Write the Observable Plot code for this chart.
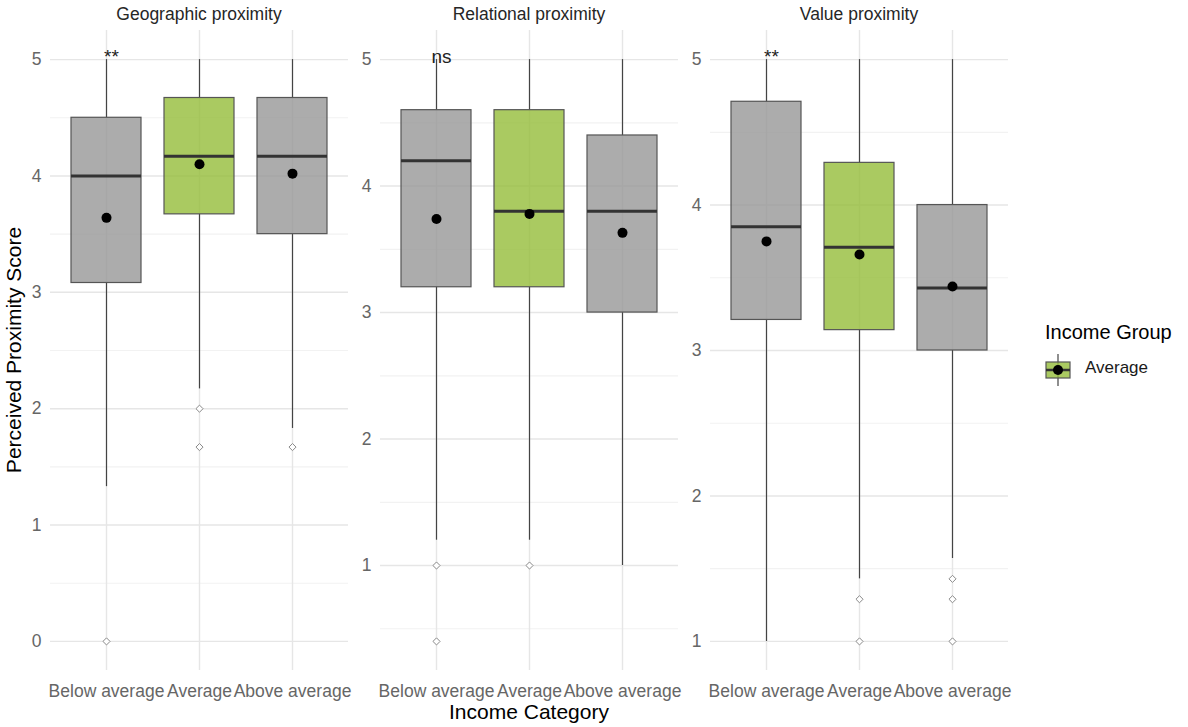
<!DOCTYPE html>
<html>
<head>
<meta charset="utf-8">
<script src="https://cdn.jsdelivr.net/npm/d3@7"></script>
<script src="https://cdn.jsdelivr.net/npm/@observablehq/plot@0.6"></script>
<style>
  body { margin: 0; background: #fff; font-family: "Liberation Sans", Arial, sans-serif; }
  #wrap { position: relative; width: 1188px; height: 727px; overflow: hidden; background: #fff; }
  .panel { position: absolute; top: 22px; }
  .strip { position: absolute; top: 4px; width: 298px; text-align: center; font-size: 17.5px; color: #262626; }
  .ytitle { position: absolute; left: 14px; top: 350px; transform: translate(-50%, -50%) rotate(-90deg); white-space: nowrap; font-size: 21px; color: #000; }
  .xtitle { position: absolute; left: 529px; top: 712px; transform: translate(-50%, -50%); white-space: nowrap; font-size: 21px; color: #000; }
  .ltitle { position: absolute; left: 1045px; top: 321px; font-size: 20px; color: #000; white-space: nowrap; }
  .llabel { position: absolute; left: 1085px; top: 358px; font-size: 17px; color: #1a1a1a; white-space: nowrap; }
  .lkey { position: absolute; left: 1043px; top: 352px; }
</style>
</head>
<body>
<div id="wrap"></div>
<script>
// ---- data ----
const panels = ["Geographic proximity", "Relational proximity", "Value proximity"];
const categories = ["Below average", "Average", "Above average"];
const highlight = "Average";
const legendTitle = "Income Group";
const xTitle = "Income Category";
const yTitle = "Perceived Proximity Score";

const majorTicks = [[0, 1, 2, 3, 4, 5], [1, 2, 3, 4, 5], [1, 2, 3, 4, 5]];
const minorTicks = [[0.5, 1.5, 2.5, 3.5, 4.5], [0.5, 1.5, 2.5, 3.5, 4.5], [1.5, 2.5, 3.5, 4.5]];

const whiskerLow  = [[1.33, 2.17, 1.83], [1.2, 1.2, 1.0], [1.0, 1.43, 1.57]];
const q1          = [[3.08, 3.67, 3.5],  [3.2, 3.2, 3.0], [3.21, 3.14, 3.0]];
const median      = [[4.0, 4.17, 4.17],  [4.2, 3.8, 3.8], [3.85, 3.71, 3.43]];
const q3          = [[4.5, 4.67, 4.67],  [4.6, 4.6, 4.4], [4.71, 4.29, 4.0]];
const whiskerHigh = [[5, 5, 5], [5, 5, 5], [5, 5, 5]];
const means       = [[3.64, 4.1, 4.02],  [3.74, 3.78, 3.63], [3.75, 3.66, 3.44]];
const outliers    = [[[0], [2, 1.67], [1.67]], [[1, 0.4], [1], []], [[], [1.29, 1], [1.43, 1.29, 1]]];
const signif      = ["**", "ns", "**"];

// ---- layout ----
const FONT = '"Liberation Sans", Arial, sans-serif';
const panelLeft = [50, 380, 710];
const panelW = 298;
const mL = 30, mT = 8, mB = 40, innerH = 640;
const wrap = document.getElementById("wrap");

panels.forEach((name, p) => {
  const rows = categories.map((c, i) => ({
    cat: c,
    lo: whiskerLow[p][i], q1: q1[p][i], med: median[p][i], q3: q3[p][i], hi: whiskerHigh[p][i],
    mean: means[p][i],
    grp: c === highlight ? "Average" : "Other"
  }));
  const outs = categories.flatMap((c, i) => outliers[p][i].map(v => ({cat: c, v})));
  const allVals = [...whiskerLow[p], ...whiskerHigh[p], ...outs.map(d => d.v)];
  const lo = d3.min(allVals), hi = d3.max(allVals), pad = (hi - lo) * 0.05;
  const top = d3.max(whiskerHigh[p]);

  const chart = Plot.plot({
    width: mL + panelW, height: mT + innerH + mB,
    marginLeft: mL, marginRight: 0, marginTop: mT, marginBottom: mB,
    style: {fontFamily: FONT, fontSize: "17.5px", color: "#666", background: "transparent", overflow: "visible"},
    x: {type: "band", domain: categories, paddingInner: 0.25, paddingOuter: 0.225, label: null, tickSize: 0, tickPadding: 14},
    y: {domain: [lo - pad, hi + pad], ticks: majorTicks[p], tickSize: 0, tickPadding: 9, label: null, tickFormat: d => String(d)},
    color: {domain: ["Other", "Average"], range: ["#979797", "#95bd3a"]},
    marks: [
      Plot.ruleY(minorTicks[p], {stroke: "#f2f2f2", strokeWidth: 1.2}),
      Plot.ruleY(majorTicks[p], {stroke: "#e6e6e6", strokeWidth: 1.4}),
      Plot.ruleX(categories, {stroke: "#e6e6e6", strokeWidth: 1.4}),
      Plot.ruleX(rows, {x: "cat", y1: "q3", y2: "hi", stroke: "#444", strokeWidth: 1.2}),
      Plot.ruleX(rows, {x: "cat", y1: "lo", y2: "q1", stroke: "#444", strokeWidth: 1.2}),
      Plot.barY(rows, {x: "cat", y1: "q1", y2: "q3", fill: "grp", fillOpacity: 0.8, stroke: "#555", strokeWidth: 1.2}),
      Plot.tickY(rows, {x: "cat", y: "med", stroke: "#333", strokeWidth: 3}),
      Plot.dot(outs, {x: "cat", y: "v", symbol: "diamond2", r: 3.2, stroke: "#8a8a8a", fill: "white", strokeWidth: 1}),
      Plot.dot(rows, {x: "cat", y: "mean", r: 5, fill: "black"}),
      Plot.text([signif[p]], {x: () => categories[0], y: () => top, text: d => d, dx: 5, dy: -3, fontSize: 19, fill: "#222"})
    ]
  });
  chart.classList.add("panel");
  chart.style.left = (panelLeft[p] - mL) + "px";
  wrap.appendChild(chart);

  const strip = document.createElement("div");
  strip.className = "strip";
  strip.style.left = panelLeft[p] + "px";
  strip.textContent = name;
  wrap.appendChild(strip);
});

const yt = document.createElement("div"); yt.className = "ytitle"; yt.textContent = yTitle; wrap.appendChild(yt);
const xt = document.createElement("div"); xt.className = "xtitle"; xt.textContent = xTitle; wrap.appendChild(xt);
const lt = document.createElement("div"); lt.className = "ltitle"; lt.textContent = legendTitle; wrap.appendChild(lt);
const ll = document.createElement("div"); ll.className = "llabel"; ll.textContent = highlight; wrap.appendChild(ll);

// legend key (boxplot glyph)
const ns = "http://www.w3.org/2000/svg";
const key = document.createElementNS(ns, "svg");
key.setAttribute("class", "lkey"); key.setAttribute("width", 30); key.setAttribute("height", 36);
key.innerHTML = `
  <line x1="15" x2="15" y1="2" y2="34" stroke="#444" stroke-width="1.2"/>
  <rect x="3" y="10" width="24" height="16" fill="#95bd3a" fill-opacity="0.8" stroke="#555" stroke-width="1.2"/>
  <line x1="3" x2="27" y1="18" y2="18" stroke="#333" stroke-width="2.5"/>
  <circle cx="15" cy="18" r="5" fill="black"/>`;
wrap.appendChild(key);
</script>
</body>
</html>
